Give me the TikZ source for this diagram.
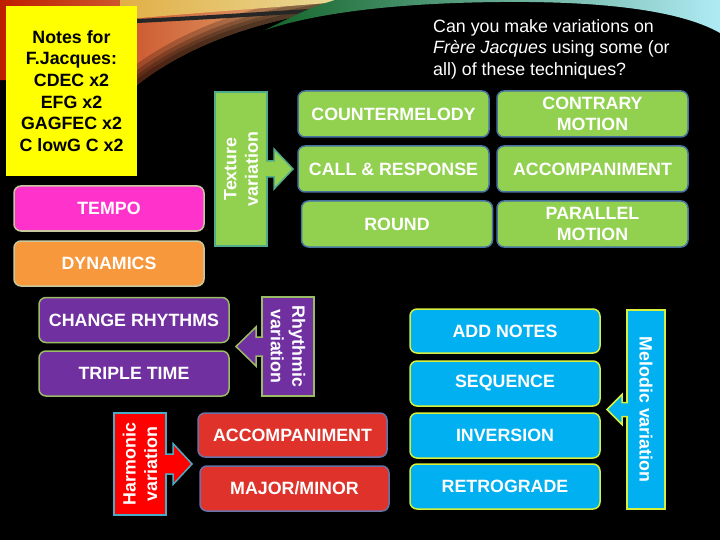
\documentclass[tikz,border=0pt]{standalone}
\usepackage{fontspec}
\setmainfont{Liberation Sans}
\usetikzlibrary{calc}
\newcommand\bxfont{\fontsize{17.8}{21.5}\selectfont\bfseries}
\newcommand\ntfont{\fontsize{17.8}{21.6}\selectfont\bfseries}
\newcommand\qsfont{\fontsize{17.8}{21.5}\selectfont}
\definecolor{gfill}{RGB}{146,208,80}
\definecolor{gborder}{RGB}{70,115,160}
\definecolor{texborder}{RGB}{80,170,140}
\definecolor{mfill}{RGB}{255,51,204}
\definecolor{ofill}{RGB}{247,152,60}
\definecolor{tborder}{RGB}{200,200,160}
\definecolor{pfill}{RGB}{112,48,160}
\definecolor{pborder}{RGB}{155,187,100}
\definecolor{rfill}{RGB}{222,50,42}
\definecolor{rborder}{RGB}{105,115,170}
\definecolor{hfill}{RGB}{255,0,0}
\definecolor{hborder}{RGB}{75,172,198}
\definecolor{bfill}{RGB}{0,176,240}
\definecolor{bborder}{RGB}{215,240,60}
\definecolor{yfill}{RGB}{255,255,0}
\definecolor{cream}{RGB}{235,222,160}
\begin{document}
\begin{tikzpicture}[x=1pt,y=-1pt,
  basebox/.style={rounded corners=7pt, line width=1.5pt, align=center, font=\bxfont, text=white, inner sep=0pt},
  gbox/.style={basebox, fill=gfill, draw=gborder, minimum width=191pt, minimum height=46pt},
  tbox/.style={basebox, draw=tborder, minimum width=190pt, minimum height=45pt},
  pbox/.style={basebox, fill=pfill, draw=pborder, minimum width=190pt, minimum height=45pt},
  rbox/.style={basebox, fill=rfill, draw=rborder, minimum width=189pt, minimum height=44pt},
  bbox/.style={basebox, fill=bfill, draw=bborder, minimum width=190pt, minimum height=44pt},
  lbl/.style={line width=1.5pt, align=center, font=\bxfont, text=white, inner sep=0pt},
  blockarrow/.style={line width=1.5pt, line join=miter}
]
\useasboundingbox (0,0) rectangle (720,540);
\fill[black] (0,0) rectangle (720,540);
% decorative swooshes
\shade[left color={rgb,255:red,190;green,30;blue,0}, middle color={rgb,255:red,235;green,135;blue,25}, right color={rgb,255:red,240;green,225;blue,160}]
  (0,0) -- (420,0) .. controls (310,8) and (210,28) .. (137,85) -- (0,80) -- cycle;
\begin{scope}
  \clip (0,0) -- (420,0) .. controls (310,8) and (210,28) .. (137,85) -- (0,80) -- cycle;
  \foreach \w in {34,24,16,9} {
    \draw[black, opacity=0.22, line width=\w pt] (420,0) .. controls (310,8) and (210,28) .. (137,85);
  }
\end{scope}
\shade[left color={rgb,255:red,225;green,175;blue,70}, right color=cream]
  (120,0) -- (360,0) .. controls (300,6) and (200,12) .. (120,20) -- cycle;
\draw[black!85, line width=4pt] (137,21) .. controls (200,18) and (260,14) .. (325,10);
\shade[left color={rgb,255:red,20;green,100;blue,40}, middle color={rgb,255:red,0;green,165;blue,175}, right color={rgb,255:red,175;green,235;blue,245}]
  (265,30) .. controls (320,12) and (400,3) .. (500,2) .. controls (600,1) and (680,10) .. (720,33) -- (720,0) -- (335,0) .. controls (310,8) .. (265,30) -- cycle;
% notes
\node[fill=yfill, minimum width=131pt, minimum height=170pt, inner sep=0pt, align=center, font=\ntfont, text=black] (notes) at (71.5,91) {Notes for\\F.Jacques:\\CDEC x2\\EFG x2\\GAGFEC x2\\C lowG C x2};
% question
\node[anchor=west, align=left, text=white, font=\qsfont, inner sep=0pt] (q) at (433,49) {Can you make variations on\\\textit{Frère Jacques} using some (or\\all) of these techniques?};
% texture
\node[gbox] (cm) at (393.5,114) {COUNTERMELODY};
\node[gbox] (cr) at (592.5,114) {CONTRARY\\MOTION};
\node[gbox] (cal) at (393.5,169) {CALL \& RESPONSE};
\node[gbox] (acc) at (592.5,169) {ACCOMPANIMENT};
\node[gbox] (rnd) at (397,224) {ROUND};
\node[gbox] (par) at (592.5,224) {PARALLEL\\MOTION};
\node[lbl, fill=gfill, draw=texborder, rotate=90, minimum width=154pt, minimum height=52pt] (tex) at (241,169) {Texture\\variation};
\filldraw[blockarrow, fill=gfill, draw=texborder] ($(tex)+(25,-8)$) -- ($(tex)+(33,-8)$) -- ($(tex)+(33,-20)$) -- ($(tex)+(52,0)$) -- ($(tex)+(33,20)$) -- ($(tex)+(33,8)$) -- ($(tex)+(25,8)$);
% tempo / dynamics
\node[tbox, fill=mfill] (tempo) at (109,208.5) {TEMPO};
\node[tbox, fill=ofill] (dyn) at (109,263.5) {DYNAMICS};
% rhythmic
\node[pbox] (chr) at (134,320) {CHANGE RHYTHMS};
\node[pbox] (trt) at (134,373.5) {TRIPLE TIME};
\node[lbl, fill=pfill, draw=pborder, rotate=-90, minimum width=99pt, minimum height=52pt] (rhy) at (288,346.5) {Rhythmic\\variation};
\filldraw[blockarrow, fill=pfill, draw=pborder] ($(rhy)+(-25,-9.5)$) -- ($(rhy)+(-32,-9.5)$) -- ($(rhy)+(-32,-19.5)$) -- ($(rhy)+(-52,0)$) -- ($(rhy)+(-32,19.5)$) -- ($(rhy)+(-32,9.5)$) -- ($(rhy)+(-25,9.5)$);
% harmonic
\node[lbl, fill=hfill, draw=hborder, rotate=90, minimum width=102pt, minimum height=52pt] (har) at (140,464) {Harmonic\\variation};
\filldraw[blockarrow, fill=hfill, draw=hborder] ($(har)+(25,-10)$) -- ($(har)+(33,-10)$) -- ($(har)+(33,-20.5)$) -- ($(har)+(52,0)$) -- ($(har)+(33,20.5)$) -- ($(har)+(33,10)$) -- ($(har)+(25,10)$);
\node[rbox] (acc2) at (292.5,435) {ACCOMPANIMENT};
\node[rbox, minimum height=45pt] (maj) at (294.5,488.5) {MAJOR/MINOR};
% melodic
\node[bbox] (add) at (505,331) {ADD NOTES};
\node[bbox, minimum height=45pt] (seq) at (505,383.5) {SEQUENCE};
\node[bbox, minimum height=45pt] (inv) at (505,435.5) {INVERSION};
\node[bbox, minimum height=45pt] (ret) at (505,486.5) {RETROGRADE};
\node[lbl, fill=bfill, draw=bborder, rotate=-90, minimum width=199pt, minimum height=38pt] (mel) at (646,409.5) {Melodic variation};
\filldraw[blockarrow, fill=bfill, draw=bborder] ($(mel)+(-18,-7)$) -- ($(mel)+(-24,-7)$) -- ($(mel)+(-24,-15)$) -- ($(mel)+(-39,0)$) -- ($(mel)+(-24,15)$) -- ($(mel)+(-24,7)$) -- ($(mel)+(-18,7)$);
\end{tikzpicture}
\end{document}
